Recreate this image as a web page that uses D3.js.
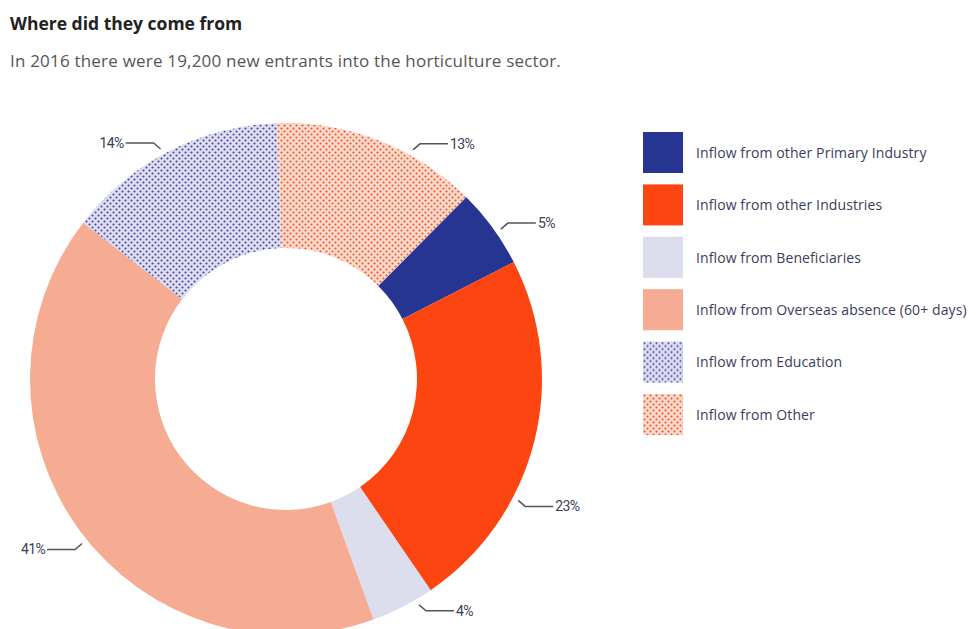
<!DOCTYPE html>
<html>
<head>
<meta charset="utf-8">
<script src="https://cdn.jsdelivr.net/npm/d3@7"></script>
<style>
  body { margin: 0; background: #fff; }
  #chart { width: 977px; height: 629px; }
</style>
</head>
<body>
<div id="chart"></div>
<script>
// data
const categories = [
  "Inflow from Other",
  "Inflow from other Primary Industry",
  "Inflow from other Industries",
  "Inflow from Beneficiaries",
  "Inflow from Overseas absence (60+ days)",
  "Inflow from Education"
];
const shares = [13, 5, 23, 4, 41, 14];
const legendOrder = [
  "Inflow from other Primary Industry",
  "Inflow from other Industries",
  "Inflow from Beneficiaries",
  "Inflow from Overseas absence (60+ days)",
  "Inflow from Education",
  "Inflow from Other"
];

// layout bits
const width = 977, height = 629;
const cx = 286, cy = 379;
const outerR = 256, innerR = 131;
const startOffset = -2 * Math.PI / 180;
// leader lines are not always at the slice middle in the original
const labelNudgeDeg = [7.6, 1.3, 13.4, -3.3, -2.7, -1.4];

const svg = d3.select("#chart")
  .append("svg")
  .attr("width", width)
  .attr("height", height);

const defs = svg.append("defs");

function dotPattern(id, bg, dot) {
  const p = defs.append("pattern")
    .attr("id", id)
    .attr("patternUnits", "userSpaceOnUse")
    .attr("width", 6)
    .attr("height", 6);
  p.append("rect").attr("width", 6).attr("height", 6).attr("fill", bg);
  p.append("circle").attr("cx", 1.5).attr("cy", 1.5).attr("r", 1.05).attr("fill", dot);
  p.append("circle").attr("cx", 4.5).attr("cy", 4.5).attr("r", 1.05).attr("fill", dot);
}
dotPattern("pat-edu", "#dfdef1", "#4044a0");
dotPattern("pat-other", "#fcdacb", "#f0532a");

const color = d3.scaleOrdinal()
  .domain(categories)
  .range(["url(#pat-other)", "#263592", "#fc4511", "#dcdded", "#f6ac93", "url(#pat-edu)"]);

// titles
svg.append("text")
  .attr("x", 10)
  .attr("y", 30)
  .attr("font-family", "Open Sans, sans-serif")
  .attr("font-weight", "bold")
  .attr("font-size", 17.5)
  .attr("fill", "#222")
  .text("Where did they come from");

svg.append("text")
  .attr("x", 10)
  .attr("y", 67)
  .attr("font-family", "Open Sans, sans-serif")
  .attr("font-size", 17)
  .attr("letter-spacing", 0.2)
  .attr("fill", "#555")
  .text("In 2016 there were 19,200 new entrants into the horticulture sector.");

// donut
const pie = d3.pie()
  .sort(null)
  .value(d => d.value)
  .startAngle(startOffset)
  .endAngle(2 * Math.PI + startOffset);

const arcs = pie(categories.map((c, i) => ({ name: c, value: shares[i], idx: i })));

const arc = d3.arc().innerRadius(innerR).outerRadius(outerR);

const g = svg.append("g").attr("transform", `translate(${cx},${cy})`);

g.selectAll("path")
  .data(arcs)
  .join("path")
  .attr("d", arc)
  .attr("fill", d => color(d.data.name));

// labels with leader lines
const lineR = outerR + 6;
const labels = g.selectAll("g.lbl")
  .data(arcs)
  .join("g")
  .attr("class", "lbl");

labels.each(function(d) {
  const a = (d.startAngle + d.endAngle) / 2 + labelNudgeDeg[d.data.idx] * Math.PI / 180;
  const x0 = Math.sin(a) * lineR;
  const y0 = -Math.cos(a) * lineR;
  const sx = Math.sin(a) >= 0 ? 1 : -1;
  const sy = Math.cos(a) >= 0 ? -1 : 1;
  const x1 = x0 + sx * 7, y1 = y0 + sy * 6;
  const x2 = x1 + sx * 28;
  const sel = d3.select(this);
  sel.append("path")
    .attr("d", `M${x0},${y0}L${x1},${y1}L${x2},${y1}`)
    .attr("fill", "none")
    .attr("stroke", "#555")
    .attr("stroke-width", 1.5);
  sel.append("text")
    .attr("x", x2 + sx * 2)
    .attr("y", y1)
    .attr("dy", "0.35em")
    .attr("text-anchor", sx > 0 ? "start" : "end")
    .attr("font-family", "Roboto, sans-serif")
    .attr("font-size", 14)
    .attr("letter-spacing", -0.6)
    .attr("fill", "#3a3d55")
    .text(d.data.value + "%");
});

// legend
const legend = svg.append("g").attr("transform", "translate(643,132)");
const rowH = 52.4;

const rows = legend.selectAll("g")
  .data(legendOrder)
  .join("g")
  .attr("transform", (d, i) => `translate(0,${i * rowH})`);

rows.append("rect")
  .attr("width", 40)
  .attr("height", 41)
  .attr("fill", d => color(d));

rows.append("text")
  .attr("x", 53)
  .attr("y", 21)
  .attr("dy", "0.35em")
  .attr("font-family", "Open Sans, sans-serif")
  .attr("font-size", 14)
  .attr("letter-spacing", 0.1)
  .attr("fill", "#3a3d5c")
  .text(d => d);
</script>
</body>
</html>
